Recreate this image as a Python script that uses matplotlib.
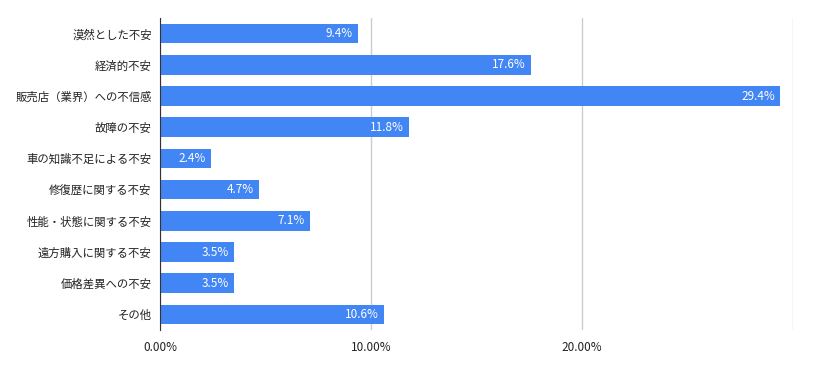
import matplotlib
matplotlib.use("Agg")
import matplotlib.pyplot as plt

plt.rcParams['font.family'] = ['Noto Sans CJK JP', 'DejaVu Sans']

categories = ["漠然とした不安", "経済的不安", "販売店（業界）への不信感", "故障の不安",
              "車の知識不足による不安", "修復歴に関する不安", "性能・状態に関する不安",
              "遠方購入に関する不安", "価格差異への不安", "その他"]
values = [9.4, 17.6, 29.4, 11.8, 2.4, 4.7, 7.1, 3.5, 3.5, 10.6]
value_labels = ["9.4%", "17.6%", "29.4%", "11.8%", "2.4%", "4.7%", "7.1%", "3.5%", "3.5%", "10.6%"]
xticks = [0, 10, 20, 30]
xtick_labels = ["0.00%", "10.00%", "20.00%", ""]

fig = plt.figure(figsize=(8.13, 3.71), dpi=100)
ax = fig.add_axes([160/813, 1-330/371, (793-160)/813, (330-18)/371])

y = list(range(len(categories)))
ax.barh(y, values, height=0.63, color="#4285F4", zorder=3)
for yi, v, lab in zip(y, values, value_labels):
    ax.text(v - 0.25, yi, lab, color="white", ha="right", va="center", fontsize=8.5, zorder=4)

ax.set_yticks(y)
ax.set_yticklabels(categories, fontsize=8.2, color="#222222")
ax.set_ylim(len(categories) - 0.5, -0.5)
ax.set_xlim(0, 30)
ax.set_xticks(xticks)
ax.set_xticklabels(xtick_labels, fontsize=8.5, color="#222222")
ax.tick_params(axis='y', length=0, pad=6)
ax.tick_params(axis='x', length=0, pad=8)
ax.grid(axis='x', color="#cccccc", linewidth=1, zorder=0)
for s in ["top", "right", "bottom"]:
    ax.spines[s].set_visible(False)
ax.spines["left"].set_color("#333333")
ax.spines["left"].set_zorder(5)

fig.savefig("out.png", dpi=100)
